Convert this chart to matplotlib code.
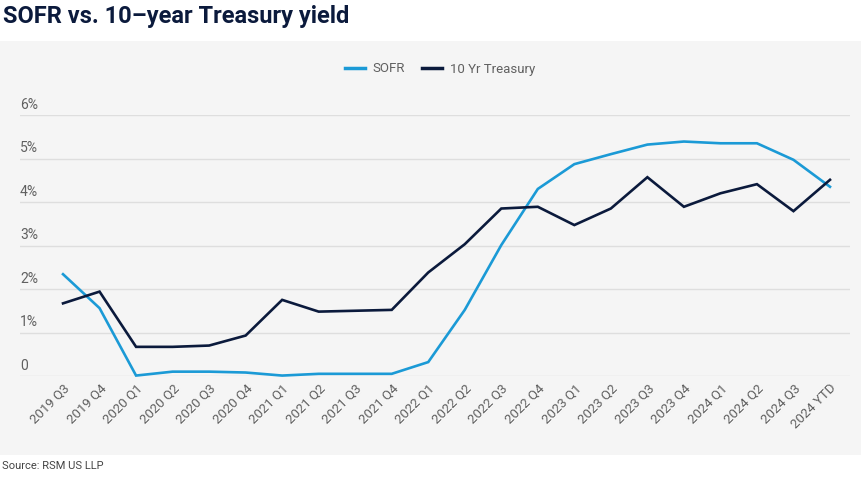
import matplotlib
matplotlib.use("Agg")
import matplotlib.pyplot as plt
from matplotlib.patches import Rectangle

quarters = ["2019 Q3", "2019 Q4", "2020 Q1", "2020 Q2", "2020 Q3", "2020 Q4",
            "2021 Q1", "2021 Q2", "2021 Q3", "2021 Q4", "2022 Q1", "2022 Q2",
            "2022 Q3", "2022 Q4", "2023 Q1", "2023 Q2", "2023 Q3", "2023 Q4",
            "2024 Q1", "2024 Q2", "2024 Q3", "2024 YTD"]
sofr = [2.34, 1.56, 0.01, 0.10, 0.10, 0.08, 0.01, 0.05, 0.05, 0.05, 0.32, 1.52,
        3.01, 4.30, 4.87, 5.10, 5.32, 5.39, 5.35, 5.35, 4.97, 4.35]
treasury = [1.67, 1.94, 0.67, 0.67, 0.70, 0.93, 1.75, 1.48, 1.50, 1.52, 2.38, 3.03,
            3.85, 3.89, 3.47, 3.85, 4.57, 3.89, 4.20, 4.41, 3.79, 4.51]
yticks = [0, 1, 2, 3, 4, 5, 6]
ytick_labels = ["0", "1%", "2%", "3%", "4%", "5%", "6%"]

SOFR_C = "#1b9ad6"
TSY_C = "#0b1a3c"
GRAY_TXT = "#606060"
narrow = ["Liberation Sans Narrow", "Roboto", "DejaVu Sans"]

W, H = 862, 478
fig = plt.figure(figsize=(W / 100, H / 100), dpi=100)
fig.patch.set_facecolor("white")

# gray panel
fig.patches.append(Rectangle((0, (H - 455) / H), 1, (455 - 41) / H,
                             transform=fig.transFigure, facecolor="#f5f5f5",
                             edgecolor="none", zorder=-10))

left, right = 20 / W, 850 / W
bottom, top = (H - 376) / H, (H - 115) / H
ax = fig.add_axes([left, bottom, right - left, top - bottom])
ax.set_zorder(5)
ax.set_facecolor("none")

x = list(range(len(quarters)))
d = 36.5
ax.set_xlim(-(63 - 20) / d, len(quarters) - 1 + (850 - 830) / d)
ax.set_ylim(0, 6)

for yv in yticks:
    ax.axhline(yv, color="#dedede", lw=1.0, zorder=1)

ax.plot(x, sofr, color=SOFR_C, lw=1.9, zorder=3, clip_on=False, label="SOFR",
        solid_joinstyle="miter")
ax.plot(x, treasury, color=TSY_C, lw=1.9, zorder=4, clip_on=False, label="10 Yr Treasury",
        solid_joinstyle="miter")

for s in ax.spines.values():
    s.set_visible(False)
ax.set_yticks([])
ax.tick_params(axis="x", length=0, pad=4)
ax.set_xticks(x)
ax.set_xticklabels(quarters, rotation=45, ha="right", rotation_mode="anchor",
                   fontsize=9.5, color=GRAY_TXT, family=narrow)

tr = ax.get_yaxis_transform()
for yv, lab in zip(yticks, ytick_labels):
    ax.text(0.0, yv + 0.07, lab, transform=tr, ha="left", va="bottom",
            fontsize=10, color=GRAY_TXT, family=narrow)

leg = fig.legend(loc="center", bbox_to_anchor=(440 / W, (H - 69) / H), ncol=2,
                 frameon=False, handlelength=1.5, handletextpad=0.6,
                 columnspacing=1.3, prop={"family": narrow, "size": 9.5})
for t in leg.get_texts():
    t.set_color(GRAY_TXT)
for l in leg.get_lines():
    l.set_linewidth(2.5)

fig.text(3 / W, (H - 16) / H, "SOFR vs. 10\u2013year Treasury yield", ha="left", va="center",
         fontsize=17, fontweight="bold", color="#0b1a3c", family=["Roboto", "DejaVu Sans"])
fig.text(2 / W, (H - 466) / H, "Source: RSM US LLP", ha="left", va="center",
         fontsize=8, color="#444444", family=narrow)

fig.savefig("out.png", dpi=100, facecolor=fig.get_facecolor())
